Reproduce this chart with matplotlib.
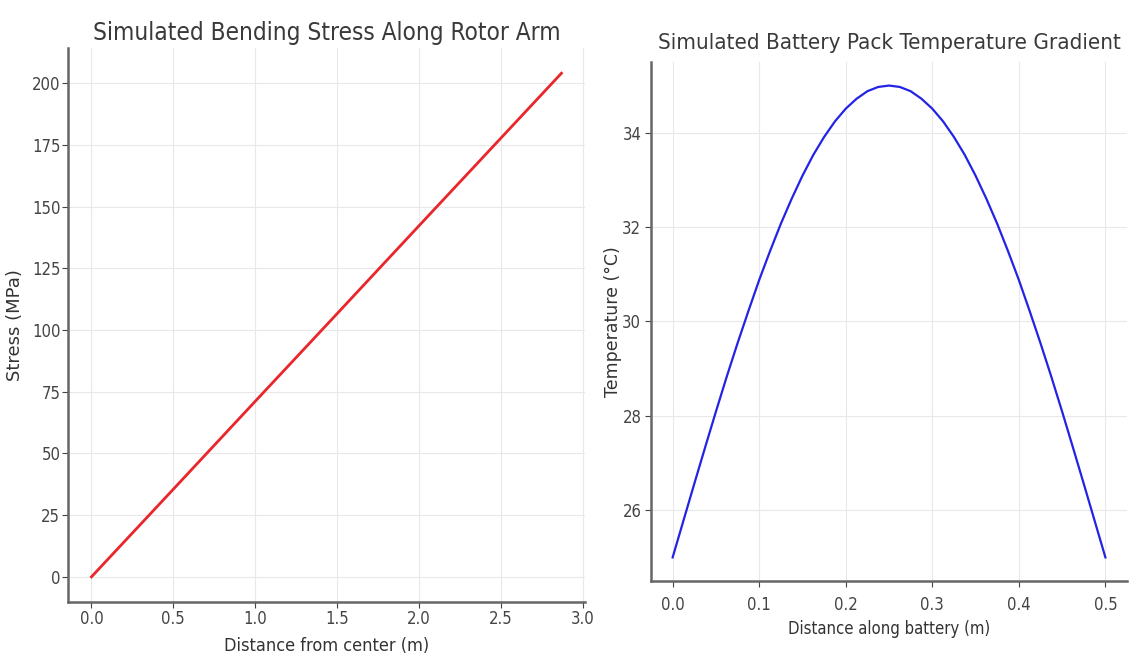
import matplotlib
matplotlib.use("Agg")
import matplotlib.pyplot as plt

# data
distance_arm = [0.0, 0.5, 1.0, 1.5, 2.0, 2.5, 2.87]
stress_mpa = [0.0, 35.5, 71.1, 106.6, 142.2, 177.7, 204.0]

distance_batt = [0.0, 0.0125, 0.025, 0.0375, 0.05, 0.0625, 0.075, 0.0875, 0.1, 0.1125,
                 0.125, 0.1375, 0.15, 0.1625, 0.175, 0.1875, 0.2, 0.2125, 0.225, 0.2375,
                 0.25, 0.2625, 0.275, 0.2875, 0.3, 0.3125, 0.325, 0.3375, 0.35, 0.3625,
                 0.375, 0.3875, 0.4, 0.4125, 0.425, 0.4375, 0.45, 0.4625, 0.475, 0.4875, 0.5]
temp_c = [25.00, 25.78, 26.56, 27.33, 28.09, 28.83, 29.54, 30.22, 30.88, 31.49,
          32.07, 32.60, 33.09, 33.53, 33.91, 34.24, 34.51, 34.72, 34.88, 34.97,
          35.00, 34.97, 34.88, 34.72, 34.51, 34.24, 33.91, 33.53, 33.09, 32.60,
          32.07, 31.49, 30.88, 30.22, 29.54, 28.83, 28.09, 27.33, 26.56, 25.78, 25.00]

plt.rcParams['font.family'] = ['DejaVu Sans']
plt.rcParams['font.stretch'] = 'condensed'

fig = plt.figure(figsize=(11.31, 6.57), dpi=100)

def style(ax):
    ax.grid(True, color='#e8e8e8', linewidth=0.8)
    ax.set_axisbelow(True)
    for s in ['top', 'right']:
        ax.spines[s].set_visible(False)
    for s in ['left', 'bottom']:
        ax.spines[s].set_color('#666666')
        ax.spines[s].set_linewidth(1.8)
    ax.tick_params(colors='#444444', labelsize=12, length=4, width=0.8)

# left: bending stress
ax1 = fig.add_axes([0.0601, 0.0837, 0.4571, 0.8432])
ax1.plot(distance_arm, stress_mpa, color='#e8262b', linewidth=2)
style(ax1)
ax1.tick_params(axis='y', pad=1.5)
ax1.tick_params(axis='x', pad=2)
ax1.set_yticks([0, 25, 50, 75, 100, 125, 150, 175, 200])
ax1.set_xticks([0.0, 0.5, 1.0, 1.5, 2.0, 2.5, 3.0])
ax1.set_title("Simulated Bending Stress Along Rotor Arm", fontsize=17.5, color='#3a3a3a', pad=6)
ax1.set_xlabel("Distance from center (m)", fontsize=13, color='#333333', labelpad=6)
ax1.set_ylabel("Stress (MPa)", fontsize=13, fontstretch='normal', color='#333333', labelpad=6)

# right: battery temperature
ax2 = fig.add_axes([0.5756, 0.1157, 0.4209, 0.79])
ax2.plot(distance_batt, temp_c, color='#2323e6', linewidth=1.6)
style(ax2)
ax2.tick_params(axis='y', pad=3)
ax2.tick_params(axis='x', pad=7)
ax2.set_yticks([26, 28, 30, 32, 34])
ax2.set_xticks([0.0, 0.1, 0.2, 0.3, 0.4, 0.5])
ax2.set_title("Simulated Battery Pack Temperature Gradient", fontsize=16, color='#3a3a3a', pad=9)
ax2.set_xlabel("Distance along battery (m)", fontsize=12, color='#333333', labelpad=4)
ax2.set_ylabel("Temperature (°C)", fontsize=12.5, fontstretch='normal', color='#333333', labelpad=0)

fig.savefig("out.png", dpi=100)
